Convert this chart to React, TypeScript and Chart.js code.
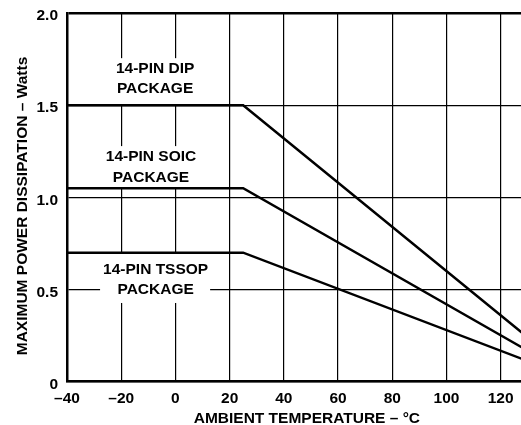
import React, { useEffect, useRef } from "react";
import { Chart, registerables } from "chart.js";

Chart.register(...registerables);

// ---- data ----
const tempX = [-40, 25, 150];
const dipW = [1.5, 1.5, 0];
const soicW = [1.05, 1.05, 0];
const tssopW = [0.7, 0.7, 0];
const xTicks = [-40, -20, 0, 20, 40, 60, 80, 100, 120];
const yTicks = [0, 0.5, 1.0, 1.5, 2.0];
const packageLabels = [
  ["14-PIN DIP", "PACKAGE"],
  ["14-PIN SOIC", "PACKAGE"],
  ["14-PIN TSSOP", "PACKAGE"],
];
const xTitle = "AMBIENT TEMPERATURE – °C";
const yTitle = "MAXIMUM POWER DISSIPATION – Watts";

const FONT = '"Liberation Sans", Arial, Helvetica, sans-serif';
const FS = 15.5;

// label placement (data coordinates): centre x, two line y's, and white knock-out box
const labelPlacement = [
  { cx: -7.5, ly: [1.70, 1.59], box: { x0: -25, x1: 10, y0: 1.5, y1: 1.755 } },
  { cx: -9, ly: [1.218, 1.109], box: { x0: -27, x1: 10, y0: 1.05, y1: 1.278 } },
  { cx: -7.3, ly: [0.606, 0.497], box: { x0: -27.8, x1: 12.8, y0: 0.427, y1: 0.7 } },
];

const annotPlugin = {
  id: "annot",
  beforeDatasetsDraw(chart: any) {
    const { ctx, scales } = chart;
    const x = scales.x, y = scales.y;
    ctx.save();
    ctx.fillStyle = "#fff";
    labelPlacement.forEach((p) => {
      const l = x.getPixelForValue(p.box.x0);
      const r = x.getPixelForValue(p.box.x1);
      const t = y.getPixelForValue(p.box.y1);
      const b = y.getPixelForValue(p.box.y0);
      ctx.fillRect(l, t, r - l, b - t);
    });
    ctx.restore();
  },
  afterDatasetsDraw(chart: any) {
    const { ctx, scales } = chart;
    const x = scales.x, y = scales.y;
    ctx.save();
    ctx.fillStyle = "#000";
    ctx.font = `bold ${FS}px ${FONT}`;
    ctx.textAlign = "center";
    ctx.textBaseline = "middle";
    labelPlacement.forEach((p, i) => {
      const cx = x.getPixelForValue(p.cx);
      packageLabels[i].forEach((line, j) => {
        ctx.fillText(line, cx, y.getPixelForValue(p.ly[j]));
      });
    });
    ctx.restore();
  },
  afterDraw(chart: any) {
    const { ctx, scales } = chart;
    const x = scales.x, y = scales.y;
    ctx.save();
    ctx.fillStyle = "#000";
    ctx.font = `bold ${FS}px ${FONT}`;
    ctx.textAlign = "center";
    ctx.textBaseline = "middle";
    ctx.fillText(xTitle, x.getPixelForValue(48.5), chart.height - 6);
    ctx.translate(22.5, y.getPixelForValue(0.953));
    ctx.rotate(-Math.PI / 2);
    ctx.fillText(yTitle, 0, 0);
    ctx.restore();
  },
};

const zeroPad = (s: any) => {
  s.paddingTop = 0;
  s.paddingBottom = 0;
  s.paddingLeft = 0;
  s.paddingRight = 0;
};

export default function App() {
  const ref = useRef<HTMLCanvasElement>(null);
  useEffect(() => {
    if (!ref.current) return;
    const lineDs = (label: string, data: number[]) => ({
      label,
      data: tempX.map((t, i) => ({ x: t, y: data[i] })),
      borderColor: "#000",
      borderWidth: 2.5,
      pointRadius: 0,
      tension: 0,
      fill: false,
    });
    const chart = new Chart(ref.current, {
      type: "line",
      data: {
        datasets: [
          lineDs("DIP", dipW),
          lineDs("SOIC", soicW),
          lineDs("TSSOP", tssopW),
        ],
      },
      plugins: [annotPlugin],
      options: {
        animation: false,
        responsive: false,
        devicePixelRatio: 1,
        layout: { padding: { top: 13, right: 0, left: 0, bottom: 0 } },
        plugins: { legend: { display: false }, tooltip: { enabled: false }, title: { display: false } },
        scales: {
          x: {
            type: "linear",
            min: -40,
            max: 127.5,
            afterBuildTicks: (s: any) => {
              s.ticks = xTicks.map((v) => ({ value: v }));
            },
            afterFit: (s: any) => {
              s.height = 43.3;
              zeroPad(s);
            },
            ticks: {
              autoSkip: false,
              maxRotation: 0,
              padding: 8,
              color: "#000",
              font: { family: FONT, size: FS, weight: "bold" },
              callback: (v: any) => (v < 0 ? "–" + Math.abs(v) : String(v)),
            },
            grid: {
              drawTicks: false,
              color: "#000",
              lineWidth: 1.2,
            },
            border: { display: true, color: "#000", width: 2.5 },
          },
          y: {
            type: "linear",
            min: 0,
            max: 2,
            afterBuildTicks: (s: any) => {
              s.ticks = yTicks.map((v) => ({ value: v }));
            },
            afterFit: (s: any) => {
              s.width = 67;
              zeroPad(s);
            },
            ticks: {
              padding: 9,
              labelOffset: 3,
              color: "#000",
              font: { family: FONT, size: FS, weight: "bold" },
              callback: (v: any) => (v === 0 ? "0" : Number(v).toFixed(1)),
            },
            grid: {
              drawTicks: false,
              color: "#000",
              lineWidth: (c: any) => (c.tick && c.tick.value === 2 ? 2.5 : 1.2),
            },
            border: { display: true, color: "#000", width: 2.5 },
          },
        },
      },
    } as any);
    return () => chart.destroy();
  }, []);
  return (
    <div style={{ position: "absolute", left: 0, top: 0, width: 521, height: 425, background: "#fff" }}>
      <canvas ref={ref} width={521} height={425} />
    </div>
  );
}
